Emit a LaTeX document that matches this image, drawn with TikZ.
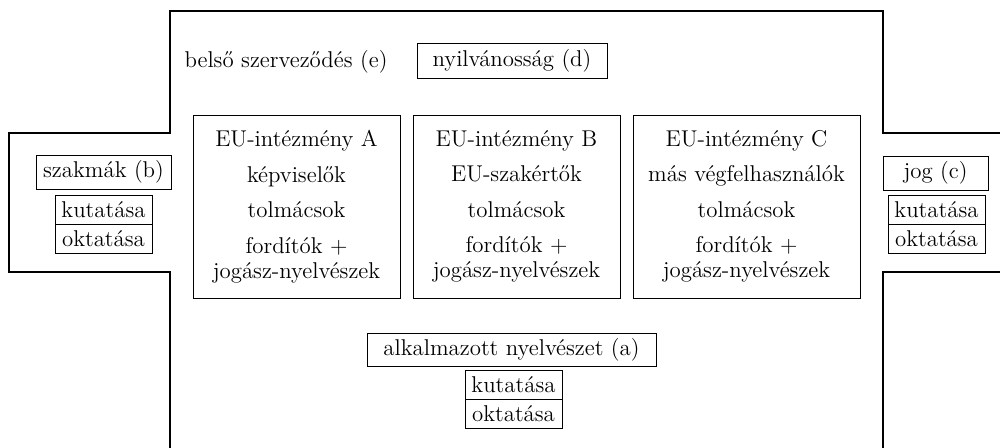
\documentclass[tikz,border=0pt]{standalone}
\usepackage{fontspec}
\usepackage{tikz}
\usetikzlibrary{positioning}

\begin{document}
\begin{tikzpicture}[
        txt/.style={font=\fontsize{13}{14.2}\selectfont, inner sep=0pt},
        box/.style={draw, line width=0.5pt, txt, outer sep=0pt},
        rowbox/.style={box, minimum width=1.94cm, minimum height=0.58cm},
        instbox/.style={box, minimum height=3.66cm, align=center},
        wall/.style={line width=1.4pt}
    ]
                \useasboundingbox (0,0) rectangle (20,-8.94);
                \clip (0,0) rectangle (20,-8.94);

                % frame
                \coordinate (LB) at (3.4,-9.2);
                \coordinate (LD) at (3.4,-5.44);
                \coordinate (LO) at (0.18,-5.44);
                \coordinate (LU) at (0.18,-2.66);
                \coordinate (LI) at (3.4,-2.66);
                \coordinate (LT) at (3.4,-0.22);
                \coordinate (RT) at (17.66,-0.22);
                \coordinate (RI) at (17.66,-2.66);
                \coordinate (RU) at (20.5,-2.66);
                \coordinate (RO) at (20.5,-5.44);
                \coordinate (RD) at (17.66,-5.44);
                \coordinate (RB) at (17.66,-9.2);

                \draw[wall] (LB) -- (LD) -- (LO) -- (LU) -- (LI) -- (LT) -- (RT) -- (RI) -- (RU);
                \draw[wall] (RO) -- (RD) -- (RB);

                % top row
                \node[txt] (belso) at (5.72,-1.24) {belső szerveződés (e)};
                \node[box, minimum width=3.8cm, minimum height=0.7cm] (nyilv) at (10.24,-1.22) {nyilvánosság (d)};

                % institutions
                \node[instbox, minimum width=4.14cm] (instA) at (5.93,-4.13)
                    {EU-intézmény A\\[6pt] képviselők\\[6pt] tolmácsok\\[6pt] fordítók +\\ jogász-nyelvészek};
                \node[instbox, minimum width=4.14cm] (instB) at (10.33,-4.13)
                    {EU-intézmény B\\[6pt] EU-szakértők\\[6pt] tolmácsok\\[6pt] fordítók +\\ jogász-nyelvészek};
                \node[instbox, minimum width=4.54cm] (instC) at (14.93,-4.13)
                    {EU-intézmény C\\[6pt] más végfelhasználók\\[6pt] tolmácsok\\[6pt] fordítók +\\ jogász-nyelvészek};

                % left arm
                \node[box, minimum width=2.7cm, minimum height=0.68cm] (szakmak) at (2.07,-3.44) {szakmák (b)};
                \node[rowbox] (kutB) at (2.07,-4.19) {kutatása};
                \node[rowbox, below=0pt of kutB] (oktB) {oktatása};

                % right arm
                \node[box, minimum width=2.1cm, minimum height=0.68cm] (jog) at (18.71,-3.46) {jog (c)};
                \node[rowbox] (kutC) at (18.73,-4.19) {kutatása};
                \node[rowbox, below=0pt of kutC] (oktC) {oktatása};

                % bottom
                \node[box, minimum width=5.78cm, minimum height=0.66cm] (alk) at (10.23,-6.99) {alkalmazott nyelvészet (a)};
                \node[rowbox] (kutA) at (10.27,-7.69) {kutatása};
                \node[rowbox, below=0pt of kutA] (oktA) {oktatása};
            \end{tikzpicture}
\end{document}
